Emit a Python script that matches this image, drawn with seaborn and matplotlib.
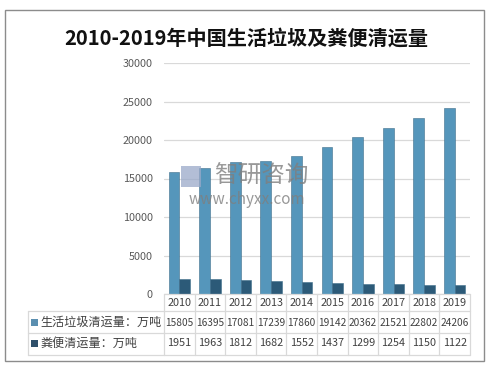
import matplotlib
matplotlib.use("Agg")
import matplotlib.pyplot as plt
import matplotlib.transforms as mtrans
from matplotlib.patches import Rectangle
import seaborn as sns
import pandas as pd

years = ["2010", "2011", "2012", "2013", "2014", "2015", "2016", "2017", "2018", "2019"]
garbage = [15805, 16395, 17081, 17239, 17860, 19142, 20362, 21521, 22802, 24206]
feces = [1951, 1963, 1812, 1682, 1552, 1437, 1299, 1254, 1150, 1122]
series_names = ["生活垃圾清运量：万吨", "粪便清运量：万吨"]
title = "2010-2019年中国生活垃圾及粪便清运量"
yticks = [0, 5000, 10000, 15000, 20000, 25000, 30000]

df = pd.DataFrame({
    "year": years * 2,
    "value": garbage + feces,
    "series": [series_names[0]] * len(years) + [series_names[1]] * len(years),
})

sns.set_theme(style="white")
plt.rcParams["font.family"] = ["Noto Sans CJK SC", "DejaVu Sans"]

W, H = 495, 373
fig = plt.figure(figsize=(W / 100, H / 100), dpi=100)
fig.patch.set_facecolor("white")

def fx(px):
    return px / W

def fy(py):
    return 1 - py / H

# outer border
fig.add_artist(Rectangle((fx(5), fy(361)), fx(484) - fx(5), fy(9.5) - fy(361),
                         transform=fig.transFigure, fill=False, edgecolor="#8c8c8c", lw=1.0))

fig.text(fx(246), fy(38), title, ha="center", va="center", fontsize=14.5,
         fontweight="bold", color="#111111")

left, right, top, bottom = 164, 470, 63, 294
ax = fig.add_axes([fx(left), fy(bottom), fx(right) - fx(left), fy(top) - fy(bottom)])

c1 = "#5596bb"
c2 = "#2c5a78"
sns.barplot(data=df, x="year", y="value", hue="series", palette=[c1, c2],
            width=0.7, ax=ax, legend=False, edgecolor="#3f6f8c", linewidth=0.4,
            saturation=1)

ax.set_xlim(-0.5, len(years) - 0.5)
ax.set_ylim(0, 30000)
ax.set_yticks(yticks)
ax.set_yticklabels([str(v) for v in yticks], fontsize=7.8, color="#595959")
ax.tick_params(axis="y", length=0, pad=8)
ax.set_xticks([])
ax.set_xlabel("")
ax.set_ylabel("")
ax.grid(axis="y", color="#d9d9d9", lw=0.9)
ax.set_axisbelow(True)
for s in ax.spines.values():
    s.set_visible(False)

# watermark (drawn over the bars)
fig.add_artist(Rectangle((fx(181), fy(187)), fx(201) - fx(181), fy(166) - fy(187),
                         transform=fig.transFigure, facecolor="#9aa9c9", edgecolor="none",
                         alpha=0.75, zorder=10))
fig.text(fx(261), fy(176), "智研咨询", ha="center", va="center", fontsize=17,
         color="#7f7f7f", alpha=0.8, zorder=10)
fig.text(fx(247), fy(199), "www.chyxx.com", ha="center", va="center", fontsize=11,
         color="#7f7f7f", alpha=0.8, zorder=10)

# data table
tr = mtrans.blended_transform_factory(ax.transData, fig.transFigure)
grid_c = "#d9d9d9"
row_y = [294, 311, 333, 355]
n = len(years)
for i in range(n + 1):
    fig.add_artist(plt.Line2D([i - 0.5, i - 0.5], [fy(row_y[0]), fy(row_y[3])],
                              transform=tr, color=grid_c, lw=0.9))
fig.add_artist(plt.Line2D([-0.5, n - 0.5], [fy(row_y[0]), fy(row_y[0])],
                          transform=tr, color=grid_c, lw=0.9))
for yy in row_y[1:]:
    fig.add_artist(plt.Line2D([fx(28), fx(right)], [fy(yy), fy(yy)],
                              transform=fig.transFigure, color=grid_c, lw=0.9))
fig.add_artist(plt.Line2D([fx(28), fx(28)], [fy(row_y[1]), fy(row_y[3])],
                          transform=fig.transFigure, color=grid_c, lw=0.9))

txt_c = "#404040"
for i, yr in enumerate(years):
    fig.text(i, fy(302.5), yr, transform=tr, ha="center", va="center",
             fontsize=7.8, color=txt_c)
    fig.text(i, fy(322.5), str(garbage[i]), transform=tr, ha="center", va="center",
             fontsize=7.3, color=txt_c)
    fig.text(i, fy(343.5), str(feces[i]), transform=tr, ha="center", va="center",
             fontsize=7.8, color=txt_c)

for name, col, yc in [(series_names[0], "#5b8fb0", 322.5), (series_names[1], "#2f506b", 343.5)]:
    fig.add_artist(Rectangle((fx(31), fy(yc + 3.5)), fx(38) - fx(31), fy(yc - 3.5) - fy(yc + 3.5),
                             transform=fig.transFigure, facecolor=col, edgecolor="none"))
    fig.text(fx(40), fy(yc), name, ha="left", va="center", fontsize=8.7, color=txt_c)

fig.savefig("out.png", dpi=100)
